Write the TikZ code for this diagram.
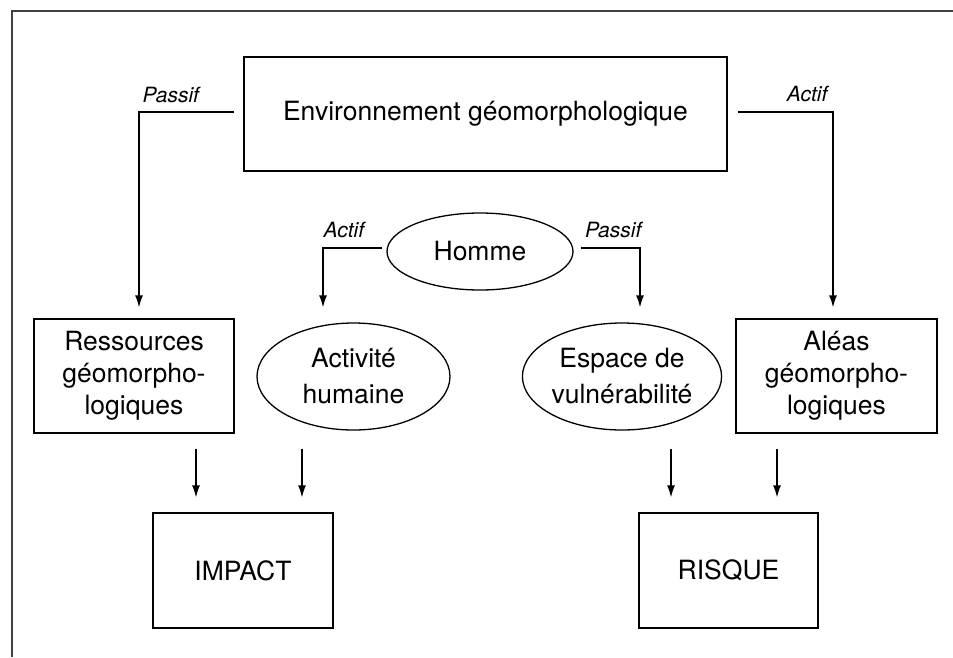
\documentclass[tikz,border=0pt]{standalone}
\usepackage{fontspec}
\setmainfont{TeX Gyre Heros}
\usetikzlibrary{arrows.meta,shapes.geometric}

\tikzset{
  box/.style={draw, line width=1.3pt, rectangle, inner sep=0pt, align=center,
    font=\fontsize{26.5}{32}\selectfont},
  oval/.style={draw, line width=1.3pt, ellipse, inner sep=0pt, align=center,
    font=\fontsize{26.5}{36}\selectfont},
  arr/.style={line width=1.3pt, -{Latex[length=12pt,width=8pt]}},
  lbl/.style={font=\fontsize{21}{25}\selectfont\itshape, inner sep=0pt},
  frame/.style={line width=2pt, draw=black!75}
}

\begin{document}
\begin{tikzpicture}[x=1pt,y=-1pt]
  \useasboundingbox (0,0) rectangle (953,657);

  % outer frame (left and top edges only)
  \draw[frame] (12,657) -- (12,11) -- (953,11);

  % nodes
  \node[box, minimum width=483pt, minimum height=114pt] (env) at (485.5,114)
    {Environnement géomorphologique};
  \node[oval, minimum width=186pt, minimum height=77pt] (homme) at (480,251.5) {Homme};
  \node[oval, minimum width=193pt, minimum height=107pt] (act) at (353.5,376.5)
    {Activité\\humaine};
  \node[oval, minimum width=190pt, minimum height=107pt] (esp) at (622,376.5)
    {Espace de\\vulnérabilité};
  \node[box, minimum width=200pt, minimum height=114pt] (res) at (134,376)
    {Ressources\\géomorpho-\\logiques};
  \node[box, minimum width=201pt, minimum height=114pt] (ale) at (836.5,376)
    {Aléas\\géomorpho-\\logiques};
  \node[box, minimum width=180pt, minimum height=115pt] (impact) at (243,570.5) {IMPACT};
  \node[box, minimum width=179pt, minimum height=115pt] (risque) at (728.5,570.5) {RISQUE};

  % connectors from the environment
  \draw[arr] ([xshift=-9pt,yshift=2pt]env.west) -|
    node[lbl, pos=0.5, anchor=base west, xshift=3pt, yshift=10pt] {Passif}
    ([xshift=5pt,yshift=11pt]res.north);
  \draw[arr] ([xshift=10pt,yshift=2pt]env.east) -|
    node[lbl, pos=0.5, anchor=base east, xshift=-5pt, yshift=11pt] {Actif}
    ([xshift=-3.5pt,yshift=11pt]ale.north);

  % connectors from Homme
  \draw[arr] ([xshift=-4pt,yshift=3.5pt]homme.west) -|
    node[lbl, pos=0.5, anchor=base west, xshift=0pt, yshift=11pt] {Actif}
    ([xshift=-30.5pt,yshift=15pt]act.north);
  \draw[arr] ([xshift=7pt,yshift=3.5pt]homme.east) -|
    node[lbl, pos=0.5, anchor=base east, xshift=2pt, yshift=11pt] {Passif}
    ([xshift=18pt,yshift=15pt]esp.north);

  % connectors to the outcomes
  \draw[arr] ([xshift=62pt,yshift=-15pt]res.south) -- ([xshift=-47pt,yshift=15pt]impact.north);
  \draw[arr] ([xshift=-51.5pt,yshift=-18pt]act.south) -- ([xshift=59pt,yshift=15pt]impact.north);
  \draw[arr] ([xshift=49pt,yshift=-18pt]esp.south) -- ([xshift=-57.5pt,yshift=15pt]risque.north);
  \draw[arr] ([xshift=-59.5pt,yshift=-15pt]ale.south) -- ([xshift=48.5pt,yshift=15pt]risque.north);
\end{tikzpicture}
\end{document}
